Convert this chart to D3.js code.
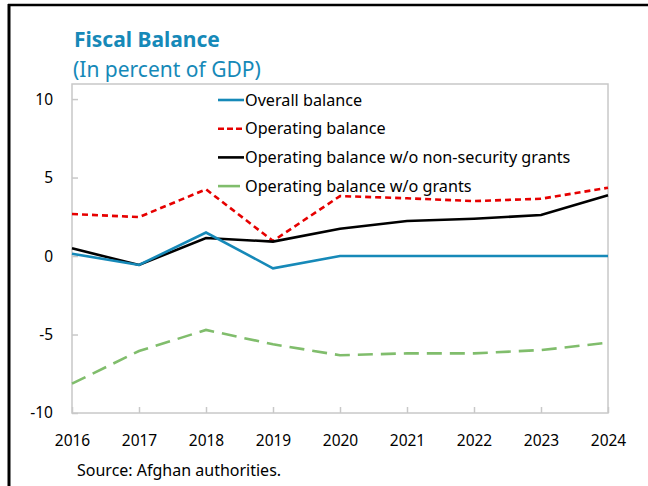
<!DOCTYPE html>
<html>
<head>
<meta charset="utf-8">
<script src="https://cdn.jsdelivr.net/npm/d3@7"></script>
<style>
  body { margin: 0; background: #fff; }
  text { font-family: "Noto Sans", "Open Sans", sans-serif; }
</style>
</head>
<body>
<svg id="chart" width="648" height="486"></svg>
<script>
var years = [2016, 2017, 2018, 2019, 2020, 2021, 2022, 2023, 2024];
var overallBalance = [0.15, -0.57, 1.5, -0.78, 0, 0, 0, 0, 0];
var operatingBalance = [2.68, 2.48, 4.25, 0.96, 3.82, 3.68, 3.5, 3.65, 4.35];
var opNoNonSecurity = [0.49, -0.57, 1.15, 0.92, 1.74, 2.23, 2.38, 2.61, 3.87];
var opNoGrants = [-8.13, -6.05, -4.71, -5.62, -6.32, -6.2, -6.2, -5.99, -5.52];
var yTicks = [-10, -5, 0, 5, 10];

var series = [
    { name: "Overall balance", values: overallBalance, color: "#1689b8", dash: null },
    { name: "Operating balance", values: operatingBalance, color: "#e60000", dash: "6,4" },
    { name: "Operating balance w/o non-security grants", values: opNoNonSecurity, color: "#000000", dash: null },
    { name: "Operating balance w/o grants", values: opNoGrants, color: "#80bd6c", dash: "15,8" }
];

var svg = d3.select("#chart");
var plotLeft = 72, plotRight = 608, plotTop = 84, plotBottom = 413;

var x = d3.scaleLinear().domain([2016, 2024]).range([plotLeft, plotRight]);
var y = d3.scaleLinear().domain([-10, 10.96]).range([plotBottom, plotTop]);

// outer frame (left and top edges only)
svg.append("line").attr("x1", 9).attr("x2", 9).attr("y1", 4).attr("y2", 486)
    .attr("stroke", "#000").attr("stroke-width", 3);
svg.append("line").attr("x1", 8).attr("x2", 648).attr("y1", 5).attr("y2", 5)
    .attr("stroke", "#000").attr("stroke-width", 2.5);

// titles
svg.append("text").attr("x", 74).attr("y", 47)
    .attr("fill", "#1689b8").attr("font-size", 21).attr("font-weight", "bold")
    .text("Fiscal Balance");
svg.append("text").attr("x", 73).attr("y", 77)
    .attr("fill", "#1689b8").attr("font-size", 21)
    .text("(In percent of GDP)");

// plot frame
svg.append("rect").attr("x", plotLeft).attr("y", plotTop)
    .attr("width", plotRight - plotLeft).attr("height", plotBottom - plotTop)
    .attr("fill", "none").attr("stroke", "#c8c8c8").attr("stroke-width", 1.5);

// axes
var yAxis = svg.append("g").attr("transform", "translate(" + plotLeft + ",0)")
    .call(d3.axisRight(y).tickValues(yTicks).tickSize(6).tickFormat(function(d) { return String(d); }));
yAxis.select(".domain").remove();
yAxis.selectAll("line").attr("stroke", "#c8c8c8").attr("stroke-width", 1.5);
yAxis.selectAll("text").attr("x", -19).attr("text-anchor", "end")
    .attr("font-size", 15.5).attr("fill", "#000");

var xAxis = svg.append("g").attr("transform", "translate(0," + plotBottom + ")")
    .call(d3.axisTop(x).tickValues(years).tickSize(6).tickFormat(function(d) { return String(d); }));
xAxis.select(".domain").remove();
xAxis.selectAll("line").attr("stroke", "#c8c8c8").attr("stroke-width", 1.5);
xAxis.selectAll("text").attr("y", 33).attr("dy", 0)
    .attr("font-size", 15.5).attr("fill", "#000");

// lines
var line = d3.line()
    .x(function(d, i) { return x(years[i]); })
    .y(function(d) { return y(d); });

// draw green, red, black, blue order so blue sits near top like reference
[3, 1, 2, 0].forEach(function(k) {
    var s = series[k];
    svg.append("path")
        .datum(s.values)
        .attr("d", line)
        .attr("fill", "none")
        .attr("stroke", s.color)
        .attr("stroke-width", 2.6)
        .attr("stroke-dasharray", s.dash);
});

// legend
var legend = svg.append("g");
series.forEach(function(s, i) {
    var ly = 100 + i * 28.7;
    legend.append("line")
        .attr("x1", 218).attr("x2", i == 3 ? 240 : 244)
        .attr("y1", ly).attr("y2", ly)
        .attr("stroke", s.color).attr("stroke-width", 2.6)
        .attr("stroke-dasharray", i == 1 ? "6,3" : null);
    legend.append("text")
        .attr("x", 245).attr("y", ly + 5.5)
        .attr("font-size", 16.2).attr("fill", "#000")
        .text(s.name);
});

// source
svg.append("text").attr("x", 77).attr("y", 476)
    .attr("font-size", 16).attr("fill", "#000")
    .text("Source: Afghan authorities.");
</script>
</body>
</html>
